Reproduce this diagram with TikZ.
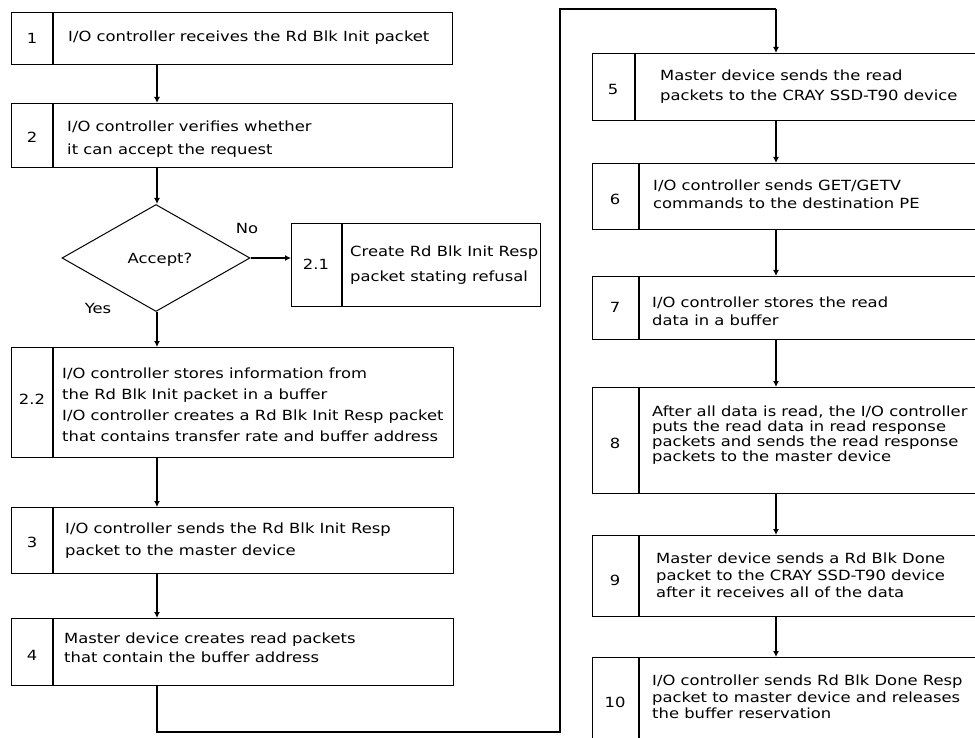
\documentclass[tikz,border=0pt]{standalone}
\usepackage{fontspec}
\setmainfont{DejaVu Sans}[FakeStretch=1.17]
\usetikzlibrary{shapes.geometric,arrows.meta}
\tikzset{
  boxs/.style={draw, line width=1.3pt, rectangle, inner sep=0pt},
  divline/.style={line width=1.3pt},
  numtxt/.style={font=\fontsize{14}{16}\selectfont, inner sep=0pt},
  txt/.style={anchor=west, align=left, inner sep=0pt},
  lbl/.style={font=\fontsize{14}{16}\selectfont, inner sep=0pt},
  arr/.style={line width=1.3pt, -{Latex[length=6pt,width=6pt]}},
  conn/.style={line width=1.3pt},
  decision/.style={draw, diamond, line width=1pt, inner sep=0pt, aspect=1.76,
     minimum width=188pt, minimum height=107pt}
}
\newcommand\stepbox[6]{%
  \node[boxs, minimum width={#4-#2}, minimum height={#5-#3}, anchor=north west] (#1) at (#2,#3) {};
  \draw[divline] (#6,#3) -- (#6,#5);}
\newcommand\fs[1]{\fontsize{14}{#1}\selectfont}
\begin{document}
\begin{tikzpicture}[x=1pt,y=-1pt]
\useasboundingbox (0,0) rectangle (975,738);
\clip (0,0) rectangle (975,738);
\fill[white] (0,0) rectangle (975,738);
% left column
\stepbox{b1}{11}{12}{452}{64}{53}
\node[numtxt] (n1) at (32,38) {1};
\node[txt, font=\fs{18}] (t1) at (68,38) {I/O controller receives the Rd Blk Init packet};

\stepbox{b2}{11}{103}{452}{167}{53}
\node[numtxt] (n2) at (32,137) {2};
\node[txt, font=\fs{23}] (t2) at (67,139) {I/O controller verifies whether\\it can accept the request};

\node[decision] (d) at (156,258) {};
\node[lbl] (acc) at (160,260) {Accept?};
\node[lbl] (no) at (247,228) {No};
\node[lbl] (yes) at (98,308) {Yes};

\stepbox{b21}{291}{223}{540}{306}{342}
\node[numtxt] (n21) at (316,264) {2.1};
\node[txt, font=\fs{25}] (t21) at (350,265) {Create Rd Blk Init Resp\\packet stating refusal};

\stepbox{b22}{11}{347}{453}{457}{53}
\node[numtxt] (n22) at (32,399) {2.2};
\node[txt, font=\fs{21}] (t22) at (62,405) {I/O controller stores information from\\the Rd Blk Init packet in a buffer\\I/O controller creates a Rd Blk Init Resp packet\\that contains transfer rate and buffer address};

\stepbox{b3}{11}{507}{453}{573}{53}
\node[numtxt] (n3) at (32,542) {3};
\node[txt, font=\fs{22}] (t3) at (65,541) {I/O controller sends the  Rd Blk Init Resp\\packet to the master device};

\stepbox{b4}{11}{618}{453}{685}{53}
\node[numtxt] (n4) at (32,655) {4};
\node[txt, font=\fs{19}] (t4) at (64,648) {Master device creates read packets\\that contain the buffer address};

% right column
\stepbox{b5}{592}{53}{990}{120}{635}
\node[numtxt] (n5) at (613,89) {5};
\node[txt, font=\fs{20}] (t5) at (660,87) {Master device sends the read\\packets to the CRAY SSD-T90 device};

\stepbox{b6}{592}{163}{990}{229}{639}
\node[numtxt] (n6) at (615,199) {6};
\node[txt, font=\fs{18}] (t6) at (653,194) {I/O controller sends GET/GETV\\commands to the destination PE};

\stepbox{b7}{592}{276}{990}{339}{639}
\node[numtxt] (n7) at (615,307) {7};
\node[txt, font=\fs{18}] (t7) at (652,311) {I/O controller stores the read\\data in a buffer};

\stepbox{b8}{592}{387}{990}{493}{639}
\node[numtxt] (n8) at (615,443) {8};
\node[txt, font=\fs{15}] (t8) at (652,435) {After all data is read, the I/O controller\\puts the read data in read response\\packets and sends the read response\\packets to the master device};

\stepbox{b9}{592}{535}{990}{616}{639}
\node[numtxt] (n9) at (615,580) {9};
\node[txt, font=\fs{17}] (t9) at (656,575) {Master device sends a Rd Blk Done\\packet to the CRAY SSD-T90 device\\after it receives all of the data};

\stepbox{b10}{592}{657}{990}{760}{639}
\node[numtxt] (n10) at (615,702) {10};
\node[txt, font=\fs{16.5}] (t10) at (652,697) {I/O controller sends Rd Blk Done Resp\\packet to master device and releases\\the buffer reservation};

% connectors
\coordinate (lx) at (157,0);
\coordinate (rx) at (776,0);
\coordinate (c1) at (157,732);
\coordinate (c2) at (560,732);
\coordinate (c3) at (560,9);
\coordinate (c4) at (776,9);
\draw[arr] (b1.south -| lx) -- (b2.north -| lx);
\draw[arr] (b2.south -| lx) -- (d.north -| lx);
\draw[arr] (d.east) -- (b21.west |- d.east);
\draw[arr] (d.south -| lx) -- (b22.north -| lx);
\draw[arr] (b22.south -| lx) -- (b3.north -| lx);
\draw[arr] (b3.south -| lx) -- (b4.north -| lx);
\draw[conn] (b4.south -| lx) -- (c1) -- (c2) -- (c3) -- (c4);
\draw[arr] (c4) -- (b5.north -| rx);
\draw[arr] (b5.south -| rx) -- (b6.north -| rx);
\draw[arr] (b6.south -| rx) -- (b7.north -| rx);
\draw[arr] (b7.south -| rx) -- (b8.north -| rx);
\draw[arr] (b8.south -| rx) -- (b9.north -| rx);
\draw[arr] (b9.south -| rx) -- (b10.north -| rx);
\end{tikzpicture}
\end{document}
